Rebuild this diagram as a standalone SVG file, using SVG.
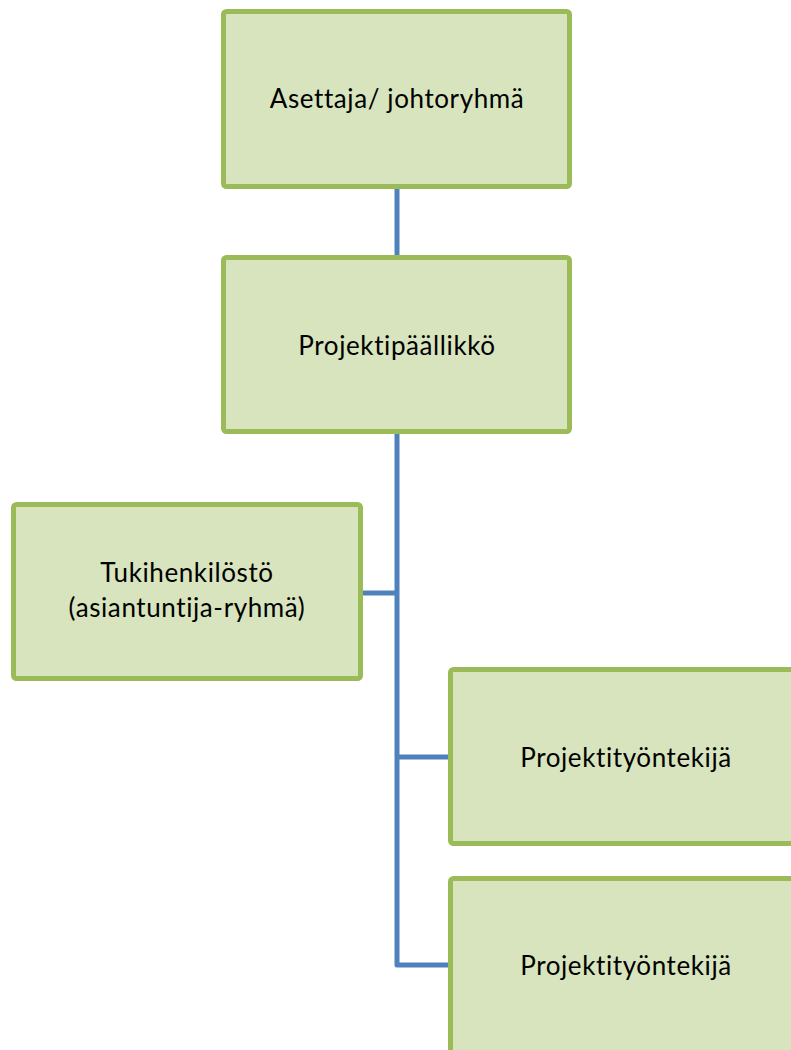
<svg xmlns="http://www.w3.org/2000/svg" width="791" height="1050" viewBox="0 0 791 1050">
<style>
.box{fill:#D7E4BD;stroke:#9BBB59;stroke-width:5}
.t{font-family:Lato,"Open Sans","Liberation Sans",sans-serif;font-size:26px;letter-spacing:0.6px;fill:#000;text-anchor:middle}
.c{fill:none;stroke:#4F81BD;stroke-width:5;stroke-linejoin:round}
</style>
<rect width="791" height="1050" fill="#fff"/>
<g id="connectors">
<line class="c" x1="397" y1="187" x2="397" y2="257"/>
<path class="c" d="M397 432 V965 H450"/>
<line class="c" x1="361" y1="593" x2="397" y2="593"/>
<line class="c" x1="397" y1="757" x2="450" y2="757"/>
</g>
<g id="n1"><rect class="box" x="223.5" y="11.5" width="346" height="175" rx="3"/><text class="t" x="397" y="108">Asettaja/ johtoryhmä</text></g>
<g id="n2"><rect class="box" x="223.5" y="257.5" width="346" height="174" rx="3"/><text class="t" x="397" y="355">Projektipäällikkö</text></g>
<g id="n3"><rect class="box" x="13.5" y="504.5" width="347" height="174" rx="3"/><text class="t" x="187" y="582">Tukihenkilöstö</text><text class="t" x="187" y="617">(asiantuntija-ryhmä)</text></g>
<g id="n4"><rect class="box" x="450.5" y="669.5" width="347" height="174" rx="3"/><text class="t" x="626" y="767">Projektityöntekijä</text></g>
<g id="n5"><rect class="box" x="450.5" y="878.5" width="347" height="180" rx="3"/><text class="t" x="626" y="975">Projektityöntekijä</text></g>
</svg>
